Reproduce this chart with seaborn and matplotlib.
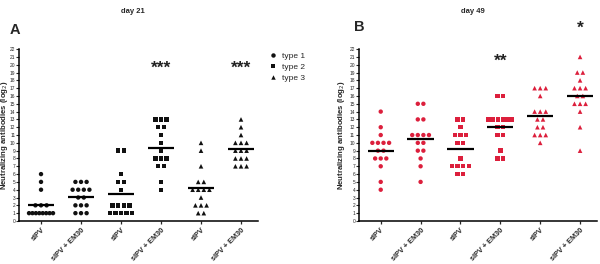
import numpy as np
import pandas as pd
import matplotlib
matplotlib.use('Agg')
import matplotlib.pyplot as plt
import seaborn as sns
from matplotlib.lines import Line2D

# --- data (log2 titres) ---
groups = ['sIPV', 'sIPV + EM30', 'sIPV', 'sIPV + EM30', 'sIPV', 'sIPV + EM30']
types = ['type 1', 'type 1', 'type 2', 'type 2', 'type 3', 'type 3']

day21_g1 = [6, 5, 4, 2, 2, 2, 1, 1, 1, 1, 1, 1, 1, 1]
day21_g2 = [5, 5, 5, 4, 4, 4, 4, 3, 3, 2, 2, 2, 1, 1, 1]
day21_g3 = [9, 9, 6, 5, 5, 4, 2, 2, 2, 2, 1, 1, 1, 1, 1]
day21_g4 = [13, 13, 13, 12, 12, 11, 10, 9, 8, 8, 8, 7, 7, 5, 4]
day21_g5 = [10, 9, 7, 5, 5, 4, 4, 4, 4, 3, 2, 2, 2, 1, 1]
day21_g6 = [13, 12, 11, 10, 10, 10, 9, 9, 9, 8, 8, 8, 7, 7, 7]

day49_g1 = [14, 12, 11, 10, 10, 10, 10, 9, 9, 8, 8, 8, 7, 5, 4]
day49_g2 = [15, 15, 13, 13, 11, 11, 11, 11, 10, 10, 9, 9, 8, 7, 5]
day49_g3 = [13, 13, 12, 11, 11, 11, 10, 10, 8, 7, 7, 7, 7, 6, 6]
day49_g4 = [16, 16, 13, 13, 13, 13, 13, 13, 12, 12, 11, 11, 9, 8, 8]
day49_g5 = [17, 17, 17, 16, 14, 14, 14, 13, 13, 12, 12, 11, 11, 11, 10]
day49_g6 = [21, 19, 19, 18, 17, 17, 17, 16, 16, 15, 15, 15, 14, 12, 9]

day21 = [day21_g1, day21_g2, day21_g3, day21_g4, day21_g5, day21_g6]
day49 = [day49_g1, day49_g2, day49_g3, day49_g4, day49_g5, day49_g6]

stars21 = {3: ('***', 19.5), 5: ('***', 19.5)}
stars49 = {3: ('**', 20.4), 5: ('*', 24.7)}

sns.set_style('white')
plt.rcParams['font.family'] = ['Liberation Sans', 'DejaVu Sans']

markers = {'type 1': 'o', 'type 2': 's', 'type 3': '^'}
msize = {'type 1': 10, 'type 2': 10, 'type 3': 11}


def build_frame(data):
    rows = []
    for gi, vals in enumerate(data):
        vals = np.array(vals)
        for v in np.unique(vals):
            k = int((vals == v).sum())
            step = 0.14 if k < 2 else min(0.14, 0.6 / (k - 1))
            offs = (np.arange(k) - (k - 1) / 2) * step
            for o in offs:
                rows.append({'x': gi + o, 'y': v, 'type': types[gi]})
    return pd.DataFrame(rows)


def draw_panel(ax, data, color, stars, label_x):
    df = build_frame(data)
    for t in markers:
        sub = df[df['type'] == t]
        sns.scatterplot(data=sub, x='x', y='y', marker=markers[t], s=msize[t],
                        color=color, edgecolor='none', linewidth=0,
                        legend=False, ax=ax, zorder=3, clip_on=False)
    for gi, vals in enumerate(data):
        ax.hlines(np.mean(vals), gi - 0.33, gi + 0.33, color='black', lw=1.6, zorder=4)
    for gi, (txt, yy) in stars.items():
        ax.text(gi, yy, txt, ha='center', va='center', fontsize=12.5,
                fontweight='bold', color='#222222', clip_on=False)
    ax.set_ylim(0, 22)
    ax.set_yticks(range(0, 23))
    ax.set_xticks(range(6))
    ax.set_xticklabels(groups, rotation=45, ha='right', rotation_mode='anchor',
                       fontsize=5.3, fontweight='bold')
    ax.tick_params(axis='y', labelsize=3.5, length=2, width=0.8, pad=0.6, direction='out', left=True)
    ax.tick_params(axis='x', length=2.5, width=0.9, pad=1.5, direction='out', bottom=True)
    ax.set_xlabel('')
    ax.set_ylabel('Neutralizing antibodies (log$_2$)', fontsize=5.6, fontweight='bold')
    ax.yaxis.label.set_va('center')
    ax.yaxis.set_label_coords(label_x, 0.5)
    sns.despine(ax=ax)
    for s in ['left', 'bottom']:
        ax.spines[s].set_linewidth(1.1)
        ax.spines[s].set_color('black')


fig = plt.figure(figsize=(6, 2.64), dpi=100)
axA = fig.add_axes([0.0317, 0.163, 0.3983, 0.651])
axB = fig.add_axes([0.598, 0.163, 0.397, 0.651])

draw_panel(axA, day21, '#111111', stars21, -15 / 239)
axA.set_xlim(-0.55, 5.425)
draw_panel(axB, day49, '#dc1f3c', stars49, -17 / 238)
axB.set_xlim(-0.55, 5.425)

handles = [Line2D([], [], marker=markers[t], ls='none', color='#111111',
                  markersize=3.2, markeredgewidth=0) for t in markers]
fig.legend(handles, list(markers), loc='upper left', bbox_to_anchor=(0.443, 0.815),
           frameon=False, fontsize=6, handletextpad=0.6, labelspacing=0.35,
           handlelength=1.0, borderaxespad=0)

fig.text(0.222, 0.955, 'day 21', ha='center', va='center', fontsize=5.5, fontweight='bold')
fig.text(0.788, 0.955, 'day 49', ha='center', va='center', fontsize=5.5, fontweight='bold')
fig.text(0.025, 0.886, 'A', ha='center', va='center', fontsize=10.5, fontweight='bold')
fig.text(0.598, 0.898, 'B', ha='center', va='center', fontsize=10.5, fontweight='bold')

fig.savefig('out.png', dpi=100)
